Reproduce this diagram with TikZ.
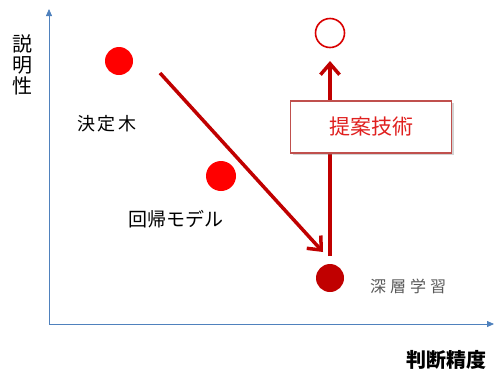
\documentclass[tikz,border=0pt]{standalone}
\usepackage{fontspec}
\newfontfamily\cjk{Noto Sans CJK JP}
\newfontfamily\cjkm{Noto Sans CJK JP Medium}
\usetikzlibrary{arrows.meta,shadows}
\definecolor{axisblue}{HTML}{4F81BD}
\definecolor{darkred}{HTML}{C00000}
\definecolor{boxred}{HTML}{C0504D}
\definecolor{txtred}{HTML}{E0201F}
\tikzset{
  axis/.style={draw=axisblue, line width=0.8bp, -{Triangle[length=7bp,width=6bp]}},
  dot/.style={circle, fill=#1, minimum size=28bp, inner sep=0pt},
  bigarrow/.style={draw=darkred, line width=3.5bp, -{Straight Barb[length=11bp,width=19bp,line width=3.5bp]}},
  lbl/.style={font=\cjk\fontsize{17bp}{20bp}\selectfont, text=black, inner sep=0pt},
}
\begin{document}
\begin{tikzpicture}[x=1bp,y=-1bp]
\useasboundingbox (0,0) rectangle (495,374);
\coordinate (o) at (49,324);
\coordinate (ytop) at (49,9);
\coordinate (xend) at (494,324);
\draw[axis] (o) -- (ytop);
\draw[axis] (o) -- (xend);
\node[font=\cjk\fontsize{20bp}{22bp}\selectfont, align=center, inner sep=0pt] (ylab) at (22,65) {説\\[-1bp]明\\[-1bp]性};
\node[font=\cjk\bfseries\fontsize{20bp}{22bp}\selectfont, inner sep=0pt] (xlab) at (446,360) {判断精度};
\node[dot=red] (dt) at (119,61) {};
\node[lbl, font=\cjk\fontsize{18bp}{20bp}\selectfont] (dtl) at (107,124) {決\,定\,木};
\node[dot=red, minimum size=30bp] (rm) at (221,176) {};
\node[lbl, font=\cjk\fontsize{19bp}{20bp}\selectfont] (rml) at (176,219) {回帰モデル};
\node[dot=darkred] (dl) at (330,278) {};
\node[lbl, font=\cjk\fontsize{16bp}{18bp}\selectfont, text=black!65] (dll) at (408,286) {深\hspace{4bp}層\hspace{4bp}学\hspace{4bp}習};
\node[circle, draw=red!85!black, line width=1.6bp, fill=white, minimum size=29bp, inner sep=0pt] (pr) at (330,33) {};
\coordinate (a1s) at (160,73);
\coordinate (a1e) at (323,252);
\coordinate (a2s) at (330,256);
\coordinate (a2e) at (330,61);
\draw[bigarrow] (a1s) -- (a1e);
\draw[bigarrow] (a2s) -- (a2e);
\node[draw=boxred, line width=1.5bp, fill=white, minimum width=161bp, minimum height=52bp, inner sep=0pt,
  drop shadow={shadow xshift=2bp, shadow yshift=-2bp, opacity=0.35},
  font=\cjk\fontsize{21bp}{22bp}\selectfont, text=txtred] (box) at (371,127) {提案技術};
\end{tikzpicture}
\end{document}
